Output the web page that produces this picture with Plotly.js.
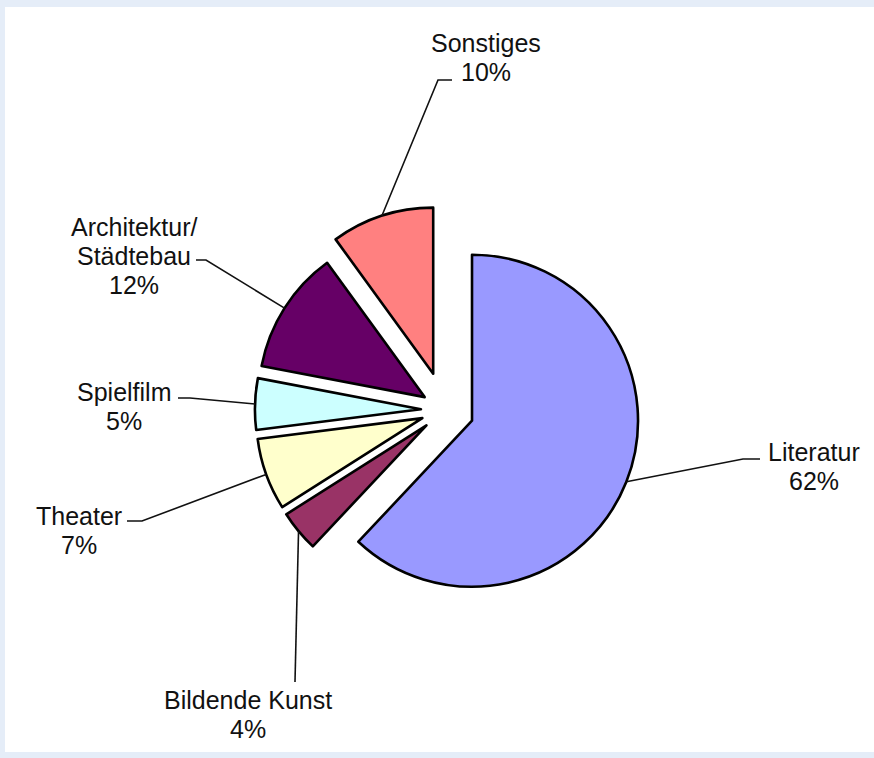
<!DOCTYPE html>
<html>
<head>
<meta charset="utf-8">
<script src="https://cdn.plot.ly/plotly-3.0.1.min.js"></script>
<style>html,body{margin:0;padding:0;background:#e5edf8;}#chart{width:874px;height:758px;}</style>
</head>
<body>
<div id="chart"></div>
<script>
// ---- data ----
var categories = ["Literatur", "Bildende Kunst", "Theater", "Spielfilm", "Architektur/<br>Städtebau", "Sonstiges"];
var shares = [62, 4, 7, 5, 12, 10];
var sliceColors = ["#9999ff", "#993366", "#ffffcc", "#ccffff", "#660066", "#ff8080"];
var pulls = [0.175, 0.145, 0.145, 0.145, 0.145, 0.23];

// ---- layout helpers (pixel geometry of the page) ----
var W = 874, H = 758;
var CX = 445, CY = 410, HALF = 204.2;   // pie domain centre and half-size in px
var maxPull = Math.max.apply(null, pulls);
var R = HALF / (1 + maxPull);          // Plotly's resulting radius
var LINE_GAP = 29;
function px(x) { return x / W; }
function py(y) { return 1 - y / H; }

// label placement (text centre, elbow, end of horizontal stub) in px
var labelPos = [
  {tx: 814, ty: 466, elbow: [743, 459], end: [760, 459]},
  {tx: 248, ty: 714, elbow: [295, 682], end: [295, 682]},
  {tx: 79,  ty: 530, elbow: [142, 521], end: [127, 521]},
  {tx: 124, ty: 406, elbow: [190, 398], end: [178, 398]},
  {tx: 134, ty: 256, elbow: [206, 260], end: [196, 260]},
  {tx: 486, ty: 58,  elbow: [438, 80],  end: [452, 80]}
];

var total = shares.reduce(function (a, b) { return a + b; }, 0);
var shapes = [{
  type: 'rect', xref: 'paper', yref: 'paper', layer: 'below',
  x0: px(5), x1: 1, y0: py(752), y1: py(7),
  fillcolor: '#ffffff', line: {width: 0}
}];
var annotations = [];
var cum = 0;
for (var i = 0; i < shares.length; i++) {
  var mid = (cum + shares[i] / 2) / total * 2 * Math.PI;
  cum += shares[i];
  var dx = Math.sin(mid), dy = -Math.cos(mid);
  var pc = [CX + pulls[i] * R * dx, CY + pulls[i] * R * dy];
  var edge = [pc[0] + R * dx, pc[1] + R * dy];
  var L = labelPos[i];
  shapes.push({
    type: 'path', xref: 'paper', yref: 'paper',
    path: 'M ' + px(edge[0]) + ' ' + py(edge[1]) +
          ' L ' + px(L.elbow[0]) + ' ' + py(L.elbow[1]) +
          ' L ' + px(L.end[0]) + ' ' + py(L.end[1]),
    line: {color: '#111111', width: 1.6}
  });
  var lines = categories[i].split('<br>').concat([Math.round(shares[i] / total * 100) + '%']);
  for (var k = 0; k < lines.length; k++) {
    annotations.push({
      xref: 'paper', yref: 'paper', x: px(L.tx),
      y: py(L.ty + (k - (lines.length - 1) / 2) * LINE_GAP),
      xanchor: 'center', yanchor: 'middle', showarrow: false, align: 'center',
      text: lines[k],
      font: {family: 'Liberation Sans, Arial, sans-serif', size: 25, color: '#111111'}
    });
  }
}

var trace = {
  type: 'pie',
  values: shares,
  labels: categories,
  sort: false,
  direction: 'clockwise',
  rotation: 0,
  pull: pulls,
  marker: {colors: sliceColors, line: {color: '#000000', width: 2.6}},
  textinfo: 'none',
  hoverinfo: 'label+percent',
  showlegend: false,
  domain: {x: [px(CX - HALF), px(CX + HALF)], y: [py(CY + HALF), py(CY - HALF)]}
};

var layout = {
  width: W, height: H,
  margin: {l: 0, r: 0, t: 0, b: 0},
  paper_bgcolor: '#e5edf8',
  plot_bgcolor: '#ffffff',
  showlegend: false,
  shapes: shapes,
  annotations: annotations
};

Plotly.newPlot('chart', [trace], layout, {displayModeBar: false, staticPlot: true});
</script>
</body>
</html>
